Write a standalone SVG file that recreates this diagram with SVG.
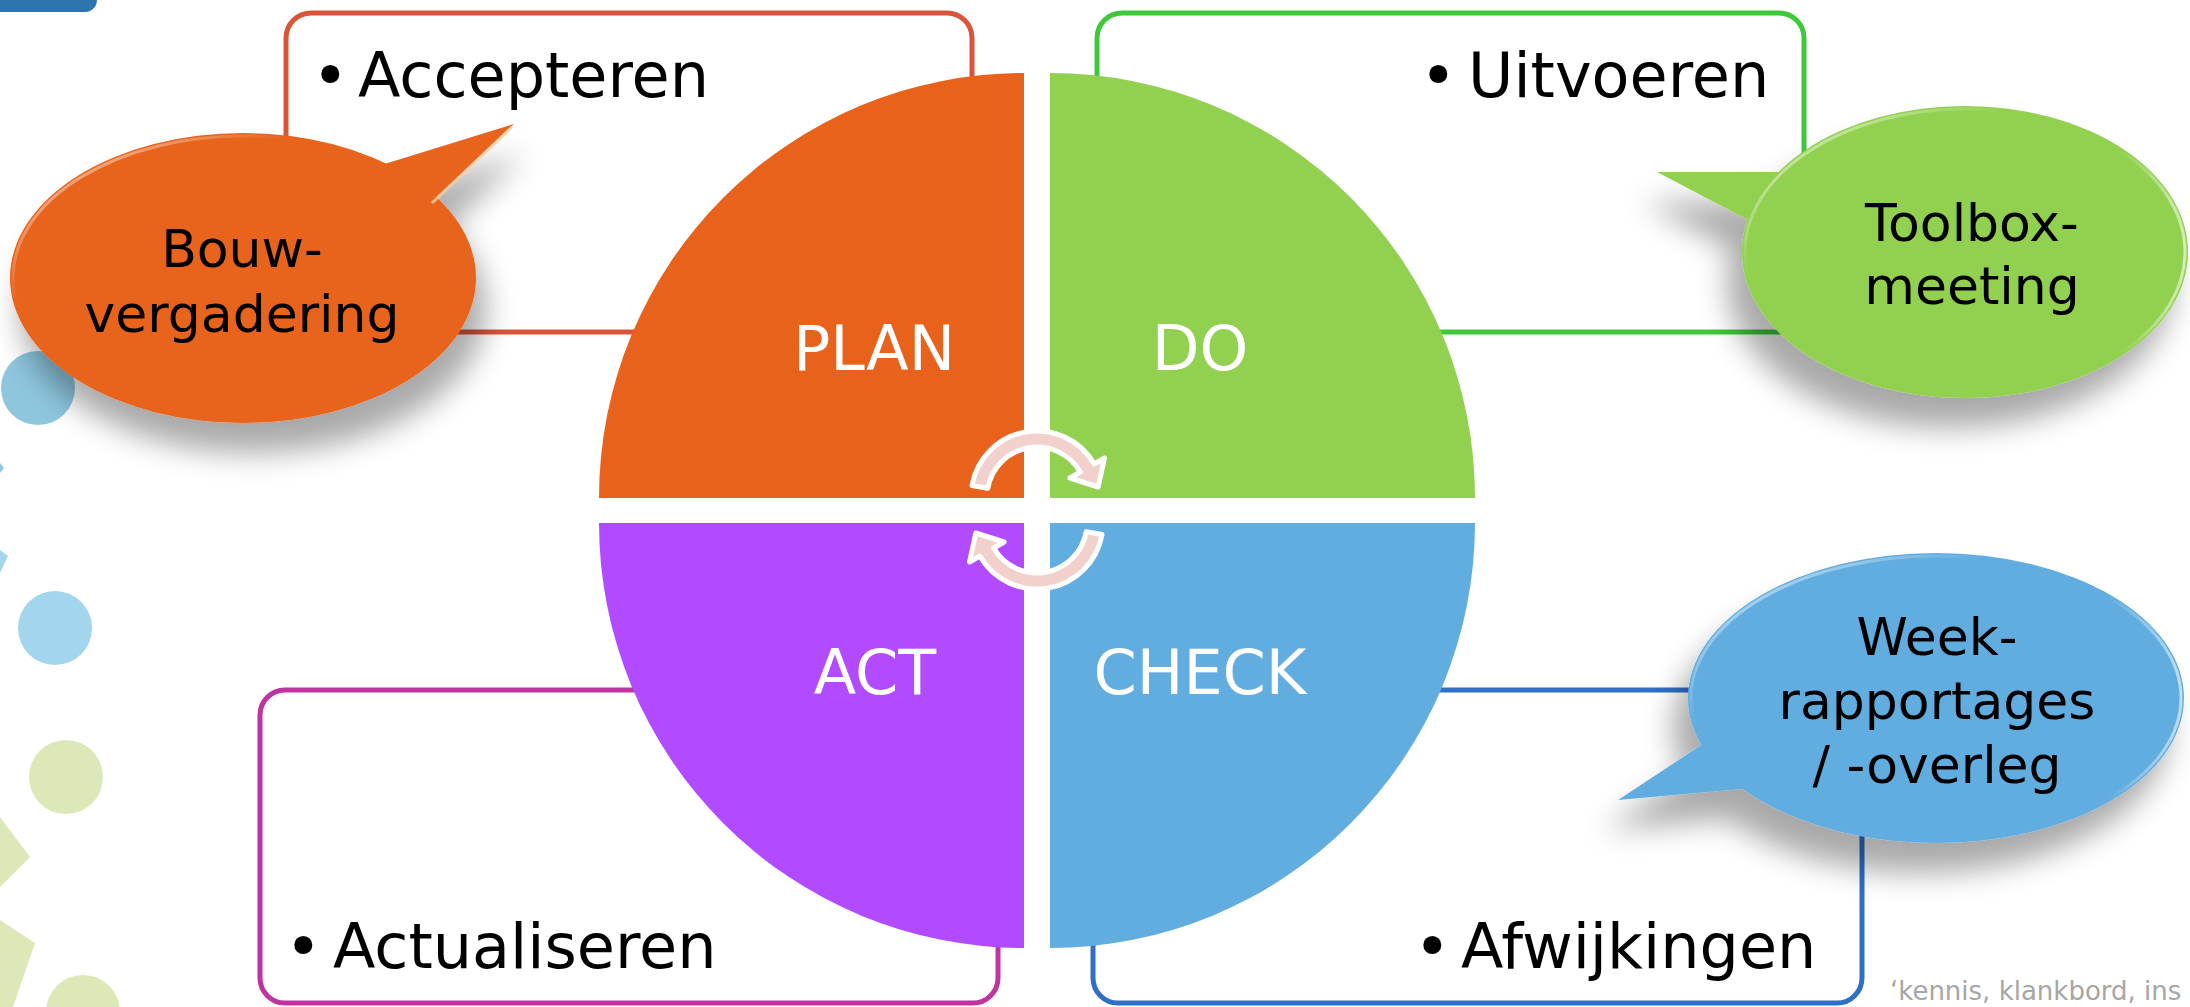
<svg xmlns="http://www.w3.org/2000/svg" width="2190" height="1007" viewBox="0 0 2190 1007">
<defs>
<style>
.lbl{font-family:"DejaVu Sans","Verdana",sans-serif;font-size:62px;fill:#000}
.q{font-family:"DejaVu Sans","Verdana",sans-serif;font-size:62px;fill:#fff;text-anchor:middle}
.bt{font-family:"DejaVu Sans","Verdana",sans-serif;font-size:52px;fill:#000;text-anchor:middle}
.box{fill:none;stroke-width:5}
.arr{fill:#F2D1CD;stroke:#fff;stroke-width:5;stroke-linejoin:round}
.hl{fill:none;stroke-width:3}
</style>
<filter id="shL" x="-30%" y="-30%" width="160%" height="180%">
<feGaussianBlur in="SourceAlpha" stdDeviation="15"/>
<feOffset dx="10" dy="30"/>
<feComponentTransfer><feFuncA type="linear" slope="0.34"/></feComponentTransfer>
<feMerge><feMergeNode/><feMergeNode in="SourceGraphic"/></feMerge>
</filter>
<filter id="shR" x="-30%" y="-30%" width="160%" height="180%">
<feGaussianBlur in="SourceAlpha" stdDeviation="15"/>
<feOffset dx="-15" dy="30"/>
<feComponentTransfer><feFuncA type="linear" slope="0.34"/></feComponentTransfer>
<feMerge><feMergeNode/><feMergeNode in="SourceGraphic"/></feMerge>
</filter>
<linearGradient id="hlL" x1="0" y1="0" x2="1" y2="1">
<stop offset="0" stop-color="#fff" stop-opacity="0.8"/>
<stop offset="0.3" stop-color="#fff" stop-opacity="0"/>
</linearGradient>
<linearGradient id="hlR" x1="0" y1="0" x2="1" y2="0">
<stop offset="0.85" stop-color="#fff" stop-opacity="0"/>
<stop offset="1" stop-color="#fff" stop-opacity="0.6"/>
</linearGradient>
</defs>
<rect width="2190" height="1007" fill="#fff"/>

<g id="decor">
<rect x="-20" y="-20" width="117" height="32" rx="12" fill="#2E75B0"/>
<circle cx="38" cy="388" r="37" fill="#8EC6DE"/>
<polygon points="0,463 4,468 0,473" fill="#8EC6DE"/>
<polygon points="0,550 8,556 0,573" fill="#A3D6EC"/>
<circle cx="55" cy="628" r="37" fill="#A3D6EC"/>
<circle cx="66" cy="777" r="37" fill="#DCE8B8"/>
<polygon points="0,817 30,857 0,887" fill="#DCE8B8"/>
<polygon points="0,920 35,943 13,1007 0,1007" fill="#DCE8B8"/>
<circle cx="83" cy="1012" r="37" fill="#DCE8B8"/>
</g>

<g id="box-accepteren">
<rect class="box" x="286" y="13" width="686" height="319" rx="25" stroke="#D9553A"/>
<text class="lbl" x="312" y="97">•<tspan x="358">Accepteren</tspan></text>
</g>
<g id="box-uitvoeren">
<rect class="box" x="1097" y="13" width="707" height="319" rx="25" stroke="#3EC83A"/>
<text class="lbl" x="1420" y="97">•<tspan x="1468">Uitvoeren</tspan></text>
</g>
<g id="box-actualiseren">
<rect class="box" x="260" y="690" width="738" height="313" rx="25" stroke="#C0349F"/>
<text class="lbl" x="285" y="968">•<tspan x="333">Actualiseren</tspan></text>
</g>
<g id="box-afwijkingen">
<rect class="box" x="1093" y="690" width="769" height="313" rx="25" stroke="#2F6FC6"/>
<text class="lbl" x="1414" y="968">•<tspan x="1461">Afwijkingen</tspan></text>
</g>

<g id="plan">
<path d="M1024 498 L599 498 A425 425 0 0 1 1024 73 Z" fill="#E8621C"/>
<text class="q" x="874" y="370">PLAN</text>
</g>
<g id="do">
<path d="M1050 498 L1050 73 A425 425 0 0 1 1475 498 Z" fill="#92D050"/>
<text class="q" x="1200" y="370">DO</text>
</g>
<g id="check">
<path d="M1050 523 L1475 523 A425 425 0 0 1 1050 948 Z" fill="#62ADE0"/>
<text class="q" x="1200" y="694">CHECK</text>
</g>
<g id="act">
<path d="M1024 523 L1024 948 A425 425 0 0 1 599 523 Z" fill="#B24BFF"/>
<text class="q" x="875" y="694">ACT</text>
</g>

<g id="connectors">
<path class="arr" d="M972 485.5 A66 66 0 0 1 1094.2 464 L1104.5 458 L1098.2 487 L1069.9 478 L1080.3 472 A50 50 0 0 0 987.8 488.3 Z"/>
<path class="arr" d="M1102 534.5 A66 66 0 0 1 979.8 556 L969.5 562 L975.8 533 L1004.1 542 L993.7 548 A50 50 0 0 0 1086.2 531.7 Z"/>
</g>

<g id="bubble-bouw">
<g filter="url(#shL)" fill="#E8631D">
<ellipse cx="243" cy="278" rx="233" ry="145"/>
<polygon points="378,166 514,124 428,205"/>
</g>
<ellipse class="hl" cx="243" cy="278" rx="230" ry="142" stroke="url(#hlL)"/>
<line x1="512" y1="127" x2="432" y2="203" stroke="#FFD0A8" stroke-width="3" opacity="0.8"/>
<text class="bt" x="242" y="267">Bouw-</text>
<text class="bt" x="242" y="332">vergadering</text>
</g>

<g id="bubble-toolbox">
<g filter="url(#shR)" fill="#92D050">
<ellipse cx="1965" cy="252" rx="223" ry="146"/>
<polygon points="1785,172 1657,172 1752,222"/>
</g>
<ellipse class="hl" cx="1965" cy="252" rx="220" ry="143" stroke="url(#hlL)"/>
<ellipse class="hl" cx="1965" cy="252" rx="220" ry="143" stroke="url(#hlR)"/>
<text class="bt" x="1972" y="241">Toolbox-</text>
<text class="bt" x="1972" y="304">meeting</text>
</g>

<g id="bubble-week">
<g filter="url(#shR)" fill="#62ADE0">
<ellipse cx="1936" cy="698" rx="248" ry="145"/>
<polygon points="1709,740 1618,800 1752,788"/>
</g>
<ellipse class="hl" cx="1936" cy="698" rx="245" ry="142" stroke="url(#hlL)"/>
<ellipse class="hl" cx="1936" cy="698" rx="245" ry="142" stroke="url(#hlR)"/>
<text class="bt" x="1937" y="655">Week-</text>
<text class="bt" x="1937" y="719">rapportages</text>
<text class="bt" x="1937" y="783">/ -overleg</text>
</g>

<text x="1890" y="1000" font-family="DejaVu Sans, Verdana, sans-serif" font-size="26" fill="#A6A6A6">‘kennis, klankbord, ins</text>
</svg>
